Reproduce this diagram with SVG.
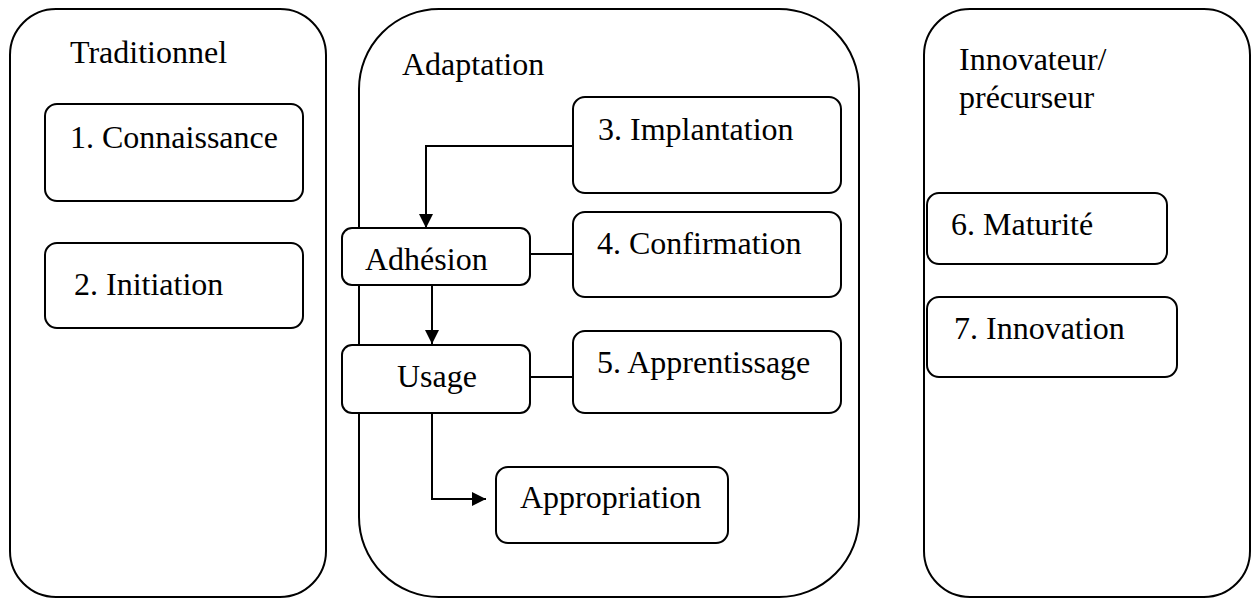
<svg xmlns="http://www.w3.org/2000/svg" width="1251" height="598" viewBox="0 0 1251 598">
  <defs>
    <style>
      .zone { fill: none; stroke: #000; stroke-width: 2; }
      .box { fill: #fff; stroke: #000; stroke-width: 2; }
      .lbl { font-family: "Liberation Serif", "Times New Roman", serif; font-size: 32px; fill: #000; }
      .link { fill: none; stroke: #000; stroke-width: 2; }
    </style>
    <marker id="arrow" viewBox="0 0 14 14" refX="14" refY="7" markerWidth="14" markerHeight="14" markerUnits="userSpaceOnUse" orient="auto">
      <path d="M0,0 L14,7 L0,14 Z" fill="#000"/>
    </marker>
  </defs>
  <rect width="1251" height="598" fill="#fff"/>

  <!-- Column containers -->
  <g id="zone-traditionnel">
    <rect class="zone" x="10" y="9" width="316" height="588" rx="46" ry="46"/>
    <text class="lbl" x="70" y="63">Traditionnel</text>
  </g>
  <g id="zone-adaptation">
    <rect class="zone" x="359" y="9" width="500" height="588" rx="80" ry="80"/>
    <text class="lbl" x="402" y="75">Adaptation</text>
  </g>
  <g id="zone-innovateur">
    <rect class="zone" x="924" y="9" width="326" height="588" rx="46" ry="46"/>
    <text class="lbl" x="959" y="70">Innovateur/</text>
    <text class="lbl" x="959" y="108">précurseur</text>
  </g>

  <!-- Connectors -->
  <g id="connectors">
    <path class="link" d="M573,146 H426 V228" marker-end="url(#arrow)"/>
    <path class="link" d="M530,254 H573"/>
    <path class="link" d="M432,285 V344" marker-end="url(#arrow)"/>
    <path class="link" d="M530,377 H573"/>
    <path class="link" d="M432,413 V499 H486" marker-end="url(#arrow)"/>
  </g>

  <!-- Stage boxes -->
  <g id="connaissance">
    <rect class="box" x="45" y="104" width="258" height="97" rx="12" ry="12"/>
    <text class="lbl" x="70" y="148">1. Connaissance</text>
  </g>
  <g id="initiation">
    <rect class="box" x="45" y="243" width="258" height="85" rx="12" ry="12"/>
    <text class="lbl" x="74" y="295">2. Initiation</text>
  </g>
  <g id="implantation">
    <rect class="box" x="573" y="97" width="268" height="96" rx="12" ry="12"/>
    <text class="lbl" x="598" y="140">3. Implantation</text>
  </g>
  <g id="confirmation">
    <rect class="box" x="573" y="212" width="268" height="85" rx="12" ry="12"/>
    <text class="lbl" x="597" y="254">4. Confirmation</text>
  </g>
  <g id="adhesion">
    <rect class="box" x="342" y="228" width="188" height="57" rx="10" ry="10"/>
    <text class="lbl" x="365" y="270">Adhésion</text>
  </g>
  <g id="usage">
    <rect class="box" x="342" y="345" width="188" height="68" rx="10" ry="10"/>
    <text class="lbl" x="397" y="387">Usage</text>
  </g>
  <g id="apprentissage">
    <rect class="box" x="573" y="331" width="268" height="82" rx="12" ry="12"/>
    <text class="lbl" x="597" y="373">5. Apprentissage</text>
  </g>
  <g id="appropriation">
    <rect class="box" x="496" y="467" width="232" height="76" rx="12" ry="12"/>
    <text class="lbl" x="520" y="508">Appropriation</text>
  </g>
  <g id="maturite">
    <rect class="box" x="927" y="193" width="240" height="71" rx="12" ry="12"/>
    <text class="lbl" x="951" y="235">6. Maturité</text>
  </g>
  <g id="innovation">
    <rect class="box" x="927" y="297" width="250" height="80" rx="12" ry="12"/>
    <text class="lbl" x="954" y="339">7. Innovation</text>
  </g>
</svg>
